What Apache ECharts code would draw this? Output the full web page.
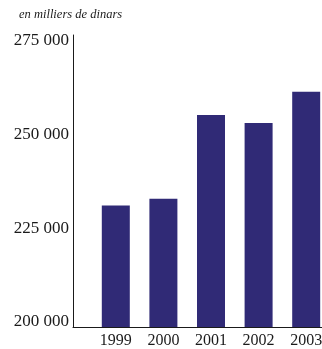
<!DOCTYPE html>
<html>
<head>
<meta charset="utf-8">
<script src="https://cdn.jsdelivr.net/npm/echarts@6/dist/echarts.min.js"></script>
<style>
  html, body { margin: 0; padding: 0; background: #ffffff; }
  #chart { width: 322px; height: 349px; }
</style>
</head>
<body>
<div id="chart"></div>
<script>
// Annual amounts, in thousands of dinars
const years = ['1999', '2000', '2001', '2002', '2003'];
const amounts = [232300, 234100, 256400, 254300, 262600];
const tickValues = [200000, 225000, 250000, 275000];
const yMin = 200000;
const yStep = 25000;
// the value axis line runs a little past the last labelled tick
const axisCeiling = 277700;
const unitLabel = 'en milliers de dinars';

const serif = '"Liberation Serif", "DejaVu Serif", serif';
const ink = '#1a1a1a';
const barColor = '#302a76';

function formatThousands(v) {
  if (tickValues.indexOf(v) < 0) return '';
  return String(v).replace(/\B(?=(\d{3})+(?!\d))/g, ' ');
}

const chart = echarts.init(document.getElementById('chart'), null, { renderer: 'canvas' });

const plotTop = 35, plotBottom = 22;

chart.setOption({
  animation: false,
  backgroundColor: '#ffffff',
  title: {
    text: unitLabel,
    left: 19,
    top: 8,
    padding: 0,
    textStyle: { fontFamily: serif, fontStyle: 'italic', fontWeight: 'normal', fontSize: 12.5, color: ink }
  },
  grid: [
    // frame: value axis and baseline
    { left: 73, right: 0, top: plotTop, bottom: plotBottom, outerBoundsMode: 'none' },
    // bars
    { left: 92, width: 238, top: plotTop, bottom: plotBottom, outerBoundsMode: 'none' }
  ],
  xAxis: [
    {
      type: 'category', gridIndex: 0, data: [''],
      axisLine: { show: true, lineStyle: { color: ink, width: 1 } },
      axisTick: { show: false }, axisLabel: { show: false }, splitLine: { show: false }
    },
    {
      type: 'category', gridIndex: 1, data: years,
      axisLine: { show: false }, axisTick: { show: false },
      axisLabel: { fontFamily: serif, fontSize: 16, color: ink, margin: 6 }
    }
  ],
  yAxis: [
    {
      type: 'value', gridIndex: 0, min: yMin, max: axisCeiling, interval: yStep,
      axisLine: { show: true, lineStyle: { color: ink, width: 1 } },
      axisTick: { show: false }, splitLine: { show: false },
      axisLabel: {
        fontFamily: serif, fontSize: 17, color: ink, margin: 4,
        verticalAlign: 'bottom', lineHeight: 10,
        showMaxLabel: false,
        formatter: formatThousands
      }
    },
    {
      type: 'value', gridIndex: 1, min: yMin, max: axisCeiling, interval: yStep,
      show: false, splitLine: { show: false }
    }
  ],
  series: [{
    type: 'bar',
    xAxisIndex: 1, yAxisIndex: 1,
    data: amounts,
    barWidth: 28,
    itemStyle: { color: barColor }
  }]
});
</script>
</body>
</html>
